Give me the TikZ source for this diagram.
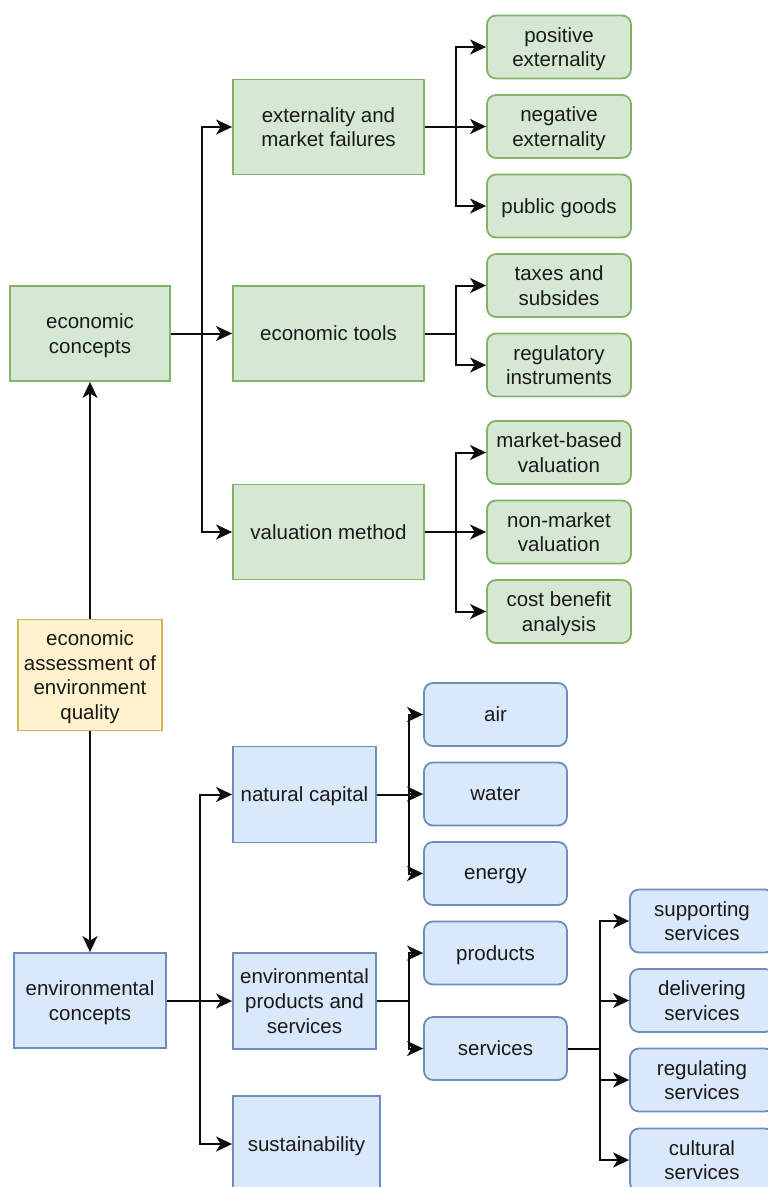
\documentclass[tikz,border=0pt]{standalone}
\usepackage{fontspec}
\setmainfont{Liberation Sans}
\usetikzlibrary{arrows.meta}
\definecolor{gfill}{HTML}{D5E8D4}
\definecolor{gline}{HTML}{82B366}
\definecolor{bfill}{HTML}{DAE8FC}
\definecolor{bline}{HTML}{6C8EBF}
\definecolor{yfill}{HTML}{FFF2CC}
\definecolor{yline}{HTML}{D6B656}
\definecolor{txt}{HTML}{1A1A1A}
\tikzset{
  box/.style={rectangle, draw, line width=1.8pt, inner sep=0pt, align=center,
    text=txt, font=\fontsize{20.5}{24.6}\selectfont, text depth=-1.5pt},
  gbox/.style={box, fill=gfill, draw=gline},
  bbox/.style={box, fill=bfill, draw=bline},
  ybox/.style={box, fill=yfill, draw=yline},
  leaf/.style={rounded corners=9pt, minimum width=144pt, minimum height=63pt},
  arr/.style={-{Stealth[length=16pt,width=15pt,inset=4.5pt]}, line width=2pt, black!95}
}
\begin{document}
\begin{tikzpicture}[x=1pt,y=-1pt]
\useasboundingbox (0,0) rectangle (768,1187);
\clip (0,0) rectangle (768,1187);
\fill[white] (0,0) rectangle (768,1187);
% economic side
\node[gbox, minimum width=160pt, minimum height=95pt] (ec) at (90,333.5) {economic\\concepts};
\node[gbox, minimum width=191pt, minimum height=95pt] (ext) at (328.5,127) {externality and\\market failures};
\node[gbox, minimum width=191pt, minimum height=95pt] (tools) at (328.5,333.5) {economic tools};
\node[gbox, minimum width=191pt, minimum height=95pt] (val) at (328.5,532) {valuation method};
\node[gbox, leaf] (pe) at (559,47) {positive\\externality};
\node[gbox, leaf] (ne) at (559,126.5) {negative\\externality};
\node[gbox, leaf] (pg) at (559,206) {public goods};
\node[gbox, leaf] (tx) at (559,285.5) {taxes and\\subsides};
\node[gbox, leaf] (ri) at (559,365) {regulatory\\instruments};
\node[gbox, leaf] (mb) at (559,452.5) {market-based\\valuation};
\node[gbox, leaf] (nm) at (559,532) {non-market\\valuation};
\node[gbox, leaf] (cb) at (559,611.5) {cost benefit\\analysis};
% root
\node[ybox, minimum width=144pt, minimum height=111pt] (aq) at (90,675) {economic\\assessment of\\environment\\quality};
% environmental side
\node[bbox, minimum width=152pt, minimum height=95pt] (env) at (90,1000.5) {environmental\\concepts};
\node[bbox, minimum width=143pt, minimum height=96pt] (nc) at (304.5,794.5) {natural capital};
\node[bbox, minimum width=143pt, minimum height=96pt] (eps) at (304.5,1001) {environmental\\products and\\services};
\node[bbox, minimum width=147pt, minimum height=96pt] (sus) at (306.5,1144) {sustainability};
\node[bbox, leaf, minimum width=143pt] (air) at (495.5,714.5) {air};
\node[bbox, leaf, minimum width=143pt] (water) at (495.5,794) {water};
\node[bbox, leaf, minimum width=143pt] (energy) at (495.5,873.5) {energy};
\node[bbox, leaf, minimum width=143pt] (prod) at (495.5,953) {products};
\node[bbox, leaf, minimum width=143pt] (serv) at (495.5,1048.5) {services};
\node[bbox, leaf] (sup) at (702,921) {supporting\\services};
\node[bbox, leaf] (del) at (702,1000.5) {delivering\\services};
\node[bbox, leaf] (reg) at (702,1080) {regulating\\services};
\node[bbox, leaf] (cul) at (702,1160) {cultural\\services};
% connectors
\draw[arr] (aq.north) -- (ec.south);
\draw[arr] (aq.south) -- (env.north);
\foreach \t in {ext,tools,val} \draw[arr] (ec.east) -- ++(31.5,0) |- (\t.west);
\foreach \t in {pe,ne,pg} \draw[arr] (ext.east) -- ++(31.5,0) |- (\t.west);
\foreach \t in {tx,ri} \draw[arr] (tools.east) -- ++(31.5,0) |- (\t.west);
\foreach \t in {mb,nm,cb} \draw[arr] (val.east) -- ++(31.5,0) |- (\t.west);
\foreach \t in {nc,eps,sus} \draw[arr] (env.east) -- ++(33.5,0) |- (\t.west);
\foreach \t in {air,water,energy} \draw[arr] (nc.east) -- ++(32,0) |- (\t.west);
\foreach \t in {prod,serv} \draw[arr] (eps.east) -- ++(32,0) |- (\t.west);
\foreach \t in {sup,del,reg,cul} \draw[arr] (serv.east) -- ++(32,0) |- (\t.west);
\end{tikzpicture}
\end{document}
